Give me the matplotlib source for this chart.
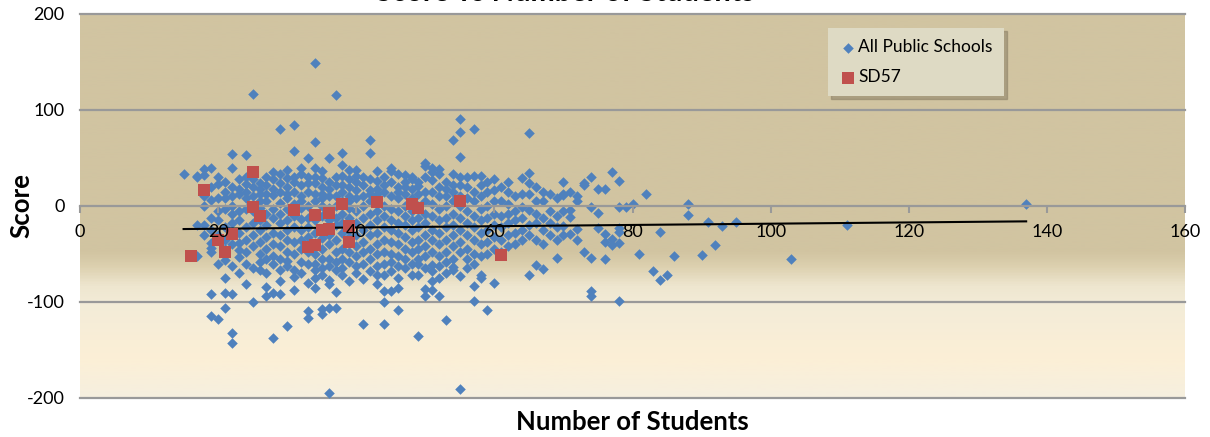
import numpy as np
import matplotlib.pyplot as plt
from matplotlib.colors import LinearSegmentedColormap
from matplotlib.ticker import FuncFormatter

plt.rcParams['font.family'] = ['Lato', 'DejaVu Sans']

# all public schools: (number of students, [scores]) read column by column
public_columns = [
    (15, [33]),
    (16, [-51]),
    (17, [31, 30, -52, -20]),
    (18, [39, 32, 10, -20, -30, 0]),
    (19, [40, 20, 6, -12, -25, -39, -44, -48, -92, -115]),
    (20, [30, 23, 8, -5, -15, -30, -60, -118]),
    (21, [25, 15, 8, -3, -22, -35, -45, -56, -75, -91, -106]),
    (22, [54, 40, 20, 10, 0, -8, -18, -40, -62, -92, -132, -143]),
    (23, [28, 18, 12, -5, -15, -28, -39, -46, -53, -70]),
    (24, [53, 30, 23, 15, 8, -3, -22, -35, -48, -60, -81]),
    (25, [117, 28, 20, 10, 0, -5, -18, -30, -42, -65, -100]),
    (26, [24, 18, 13, 5, -2, -15, -25, -38, -50, -58, -67]),
    (27, [30, 22, 12, 5, -8, -20, -32, -45, -55, -70, -84, -94]),
    (28, [35, 28, 18, 11, -3, -12, -28, -40, -52, -60, -91, -137]),
    (29, [80, 33, 24, 15, 3, -8, -18, -30, -42, -55, -67, -78, -92]),
    (30, [38, 29, 20, 12, 8, -3, -15, -25, -35, -48, -57, -62, -125]),
    (31, [84, 57, 30, 25, 15, 2, -10, -22, -38, -50, -67, -74, -88]),
    (32, [40, 33, 22, 10, 5, -2, -14, -25, -35, -45, -58, -70]),
    (33, [50, 30, 24, 15, 0, -12, -22, -32, -48, -60, -80, -109, -117]),
    (34, [149, 67, 40, 30, 24, 13, 5, -15, -28, -50, -60, -67, -75, -85]),
    (35, [36, 29, 20, 13, 8, 0, -10, -33, -45, -55, -65, -72, -107, -112]),
    (36, [50, 25, 18, 10, -2, -15, -30, -40, -55, -62, -77, -81, -106, -195]),
    (37, [116, 30, 22, 10, 0, -12, -20, -35, -48, -58, -67, -90, -106]),
    (38, [55, 43, 31, 22, 15, 5, -8, -18, -28, -45, -55, -65, -72]),
    (39, [37, 28, 20, 10, 5, -2, -12, -25, -32, -48, -58, -78]),
    (40, [38, 31, 25, 17, 8, -5, -18, -30, -42, -52, -62, -70]),
    (41, [30, 22, 10, 0, -12, -25, -38, -48, -60, -76, -123]),
    (42, [69, 55, 28, 17, 12, 5, -8, -20, -30, -45, -55, -68]),
    (43, [36, 26, 18, 12, 5, -5, -15, -28, -40, -50, -62, -72, -81]),
    (44, [30, 22, 15, 0, -10, -22, -35, -48, -60, -72, -89, -100, -123]),
    (45, [40, 36, 25, 10, -3, -15, -25, -38, -50, -58, -68, -89]),
    (46, [33, 20, 15, 8, -5, -18, -28, -40, -52, -62, -75, -85, -108]),
    (47, [32, 25, 20, 12, 0, -10, -20, -32, -45, -55, -65]),
    (48, [30, 28, 18, 8, -5, -15, -25, -38, -48, -60, -72]),
    (49, [25, 21, 12, 0, -12, -22, -35, -45, -55, -60, -72, -135]),
    (50, [45, 42, 30, 15, 5, -8, -18, -30, -42, -52, -65, -86, -94]),
    (51, [40, 35, 27, 15, 2, -10, -25, -35, -48, -61, -68, -78, -87]),
    (52, [39, 33, 20, 10, -3, -15, -28, -40, -52, -62, -75, -94]),
    (53, [25, 18, 10, 0, -12, -22, -35, -48, -58, -70, -119]),
    (54, [69, 33, 22, 15, 5, -8, -20, -30, -42, -55, -64, -67]),
    (55, [91, 77, 51, 30, 22, 10, 0, -12, -25, -38, -48, -73, -191]),
    (56, [30, 20, 8, -5, -18, -30, -45, -55, -65]),
    (57, [80, 31, 15, 5, -10, -22, -35, -50, -60, -83, -99]),
    (58, [31, 22, 10, -3, -15, -28, -40, -52, -72, -75]),
    (59, [25, 15, 0, -12, -25, -38, -50, -108]),
    (60, [28, 17, 5, -8, -20, -32, -45, -80]),
    (61, [20, 5, -10, -22, -35, -48]),
    (62, [25, 15, 2, -8, -18, -30, -42]),
    (63, [10, -5, -15, -28, -40]),
    (64, [29, 13, -1, -12, -25, -35]),
    (65, [76, 34, 24, 12, -4, -20, -30, -72]),
    (66, [20, 5, -8, -18, -35, -61]),
    (67, [15, 5, -12, -25, -40, -66]),
    (68, [13, -5, -18, -30]),
    (69, [8, -10, -22, -35, -54]),
    (70, [25, 13, 11, -5, -21, -30]),
    (71, [15, -4, -11, -29]),
    (72, [10, 5, -24, -35]),
    (73, [24, 22, -48]),
    (74, [30, -1, -54, -89, -94]),
    (75, [18, -7, -23]),
    (76, [18, -29, -38, -55]),
    (77, [35, -34, -41]),
    (78, [26, -1, -23, -27, -39, -99]),
    (79, [-1]),
    (80, [2]),
    (81, [-50]),
    (82, [13]),
    (83, [-68]),
    (84, [-27, -77]),
    (85, [-72]),
    (86, [-52]),
    (88, [2, -9]),
    (90, [-51]),
    (91, [-17]),
    (92, [-41]),
    (93, [-21]),
    (95, [-17]),
    (103, [-55]),
    (111, [-20]),
    (137, [2]),
]

sd57_n = [16, 18, 20, 21, 22, 25, 25, 26, 31, 33, 34, 34,
          35, 36, 36, 38, 39, 39, 43, 48, 49, 55, 61]
sd57_score = [-52, 17, -35, -48, -29, 35, -1, -10, -4, -43, -41, -9,
              -25, -7, -24, 2, -21, -38, 4, 2, -2, 5, -51]

trend_n = [15, 137]
trend_score = [-24, -16]

x_ticks = [0, 20, 40, 60, 80, 100, 120, 140, 160]
y_ticks = [-200, -100, 0, 100, 200]

pub_n = [n for n, ys in public_columns for _ in ys]
pub_score = [y for n, ys in public_columns for y in ys]

fig = plt.figure(figsize=(12.1, 4.37), dpi=100)
ax = fig.add_axes([80 / 1210, 39 / 437, 1105 / 1210, 384 / 437])

# plot area fill: tan on top, fading into cream below -50
bg = LinearSegmentedColormap.from_list('bg', [
    (0.00, '#F6EFDF'), (0.10, '#FCEFD6'), (0.24, '#F3ECD8'),
    (0.29, '#EEE6CF'), (0.34, '#DDD1B0'), (0.38, '#D1C4A1'), (1.00, '#D1C4A1')])
ax.imshow(np.linspace(0, 1, 400).reshape(-1, 1), cmap=bg, origin='lower',
          extent=[0, 160, -200, 200], aspect='auto', zorder=0)

for yv in [-200, -100, 100, 200]:
    ax.axhline(yv, color='#999999', lw=1.6, zorder=0.5, clip_on=False)

ax.scatter(pub_n, pub_score, marker='D', s=29, color='#4F81BD',
           linewidths=0, zorder=2, label='All Public Schools')
ax.plot(trend_n, trend_score, color='black', lw=1.5, zorder=3)
ax.scatter(sd57_n, sd57_score, marker='s', s=66, color='#C0504D',
           linewidths=0, zorder=4, label='SD57')

ax.set_xlim(0, 160)
ax.set_ylim(-200, 200)
ax.set_xticks(x_ticks)
ax.set_yticks(y_ticks)
ax.yaxis.set_major_formatter(FuncFormatter(lambda v, p: '%d' % v))
for side in ['left', 'right', 'top']:
    ax.spines[side].set_visible(False)
ax.spines['bottom'].set_position(('data', 0))
ax.spines['bottom'].set_color('#999999')
ax.spines['bottom'].set_linewidth(1.6)
ax.tick_params(axis='x', direction='out', length=5, width=1.5,
               color='#999999', labelsize=13, pad=8)
ax.tick_params(axis='y', length=0, pad=11, labelsize=13)
ax.xaxis.set_zorder(5)

ax.set_xlabel('Number of Students', fontsize=18.5, fontweight='bold')
ax.xaxis.set_label_coords(0.5, -0.03)
ax.set_ylabel('Score', fontsize=18.5, fontweight='bold')
ax.yaxis.set_label_coords(-47 / 1105, 0.5)

# chart title sits mostly above the top edge, as in the source image
fig.text(0.467, 436.0 / 437, 'Score vs Number of Students', ha='center',
         va='baseline', fontsize=21, fontweight='bold')

leg = ax.legend(loc='upper left', bbox_to_anchor=(0.677, 0.9635),
                frameon=True, fancybox=False, facecolor='#DEDAC4',
                edgecolor='none', framealpha=1, fontsize=12.5,
                labelspacing=0.8, borderpad=0.65, handletextpad=0.1,
                handlelength=1.0, borderaxespad=0,
                shadow={'color': '#8a7f66', 'alpha': 0.55})
leg.set_zorder(6)

fig.savefig('out.png', dpi=100)
